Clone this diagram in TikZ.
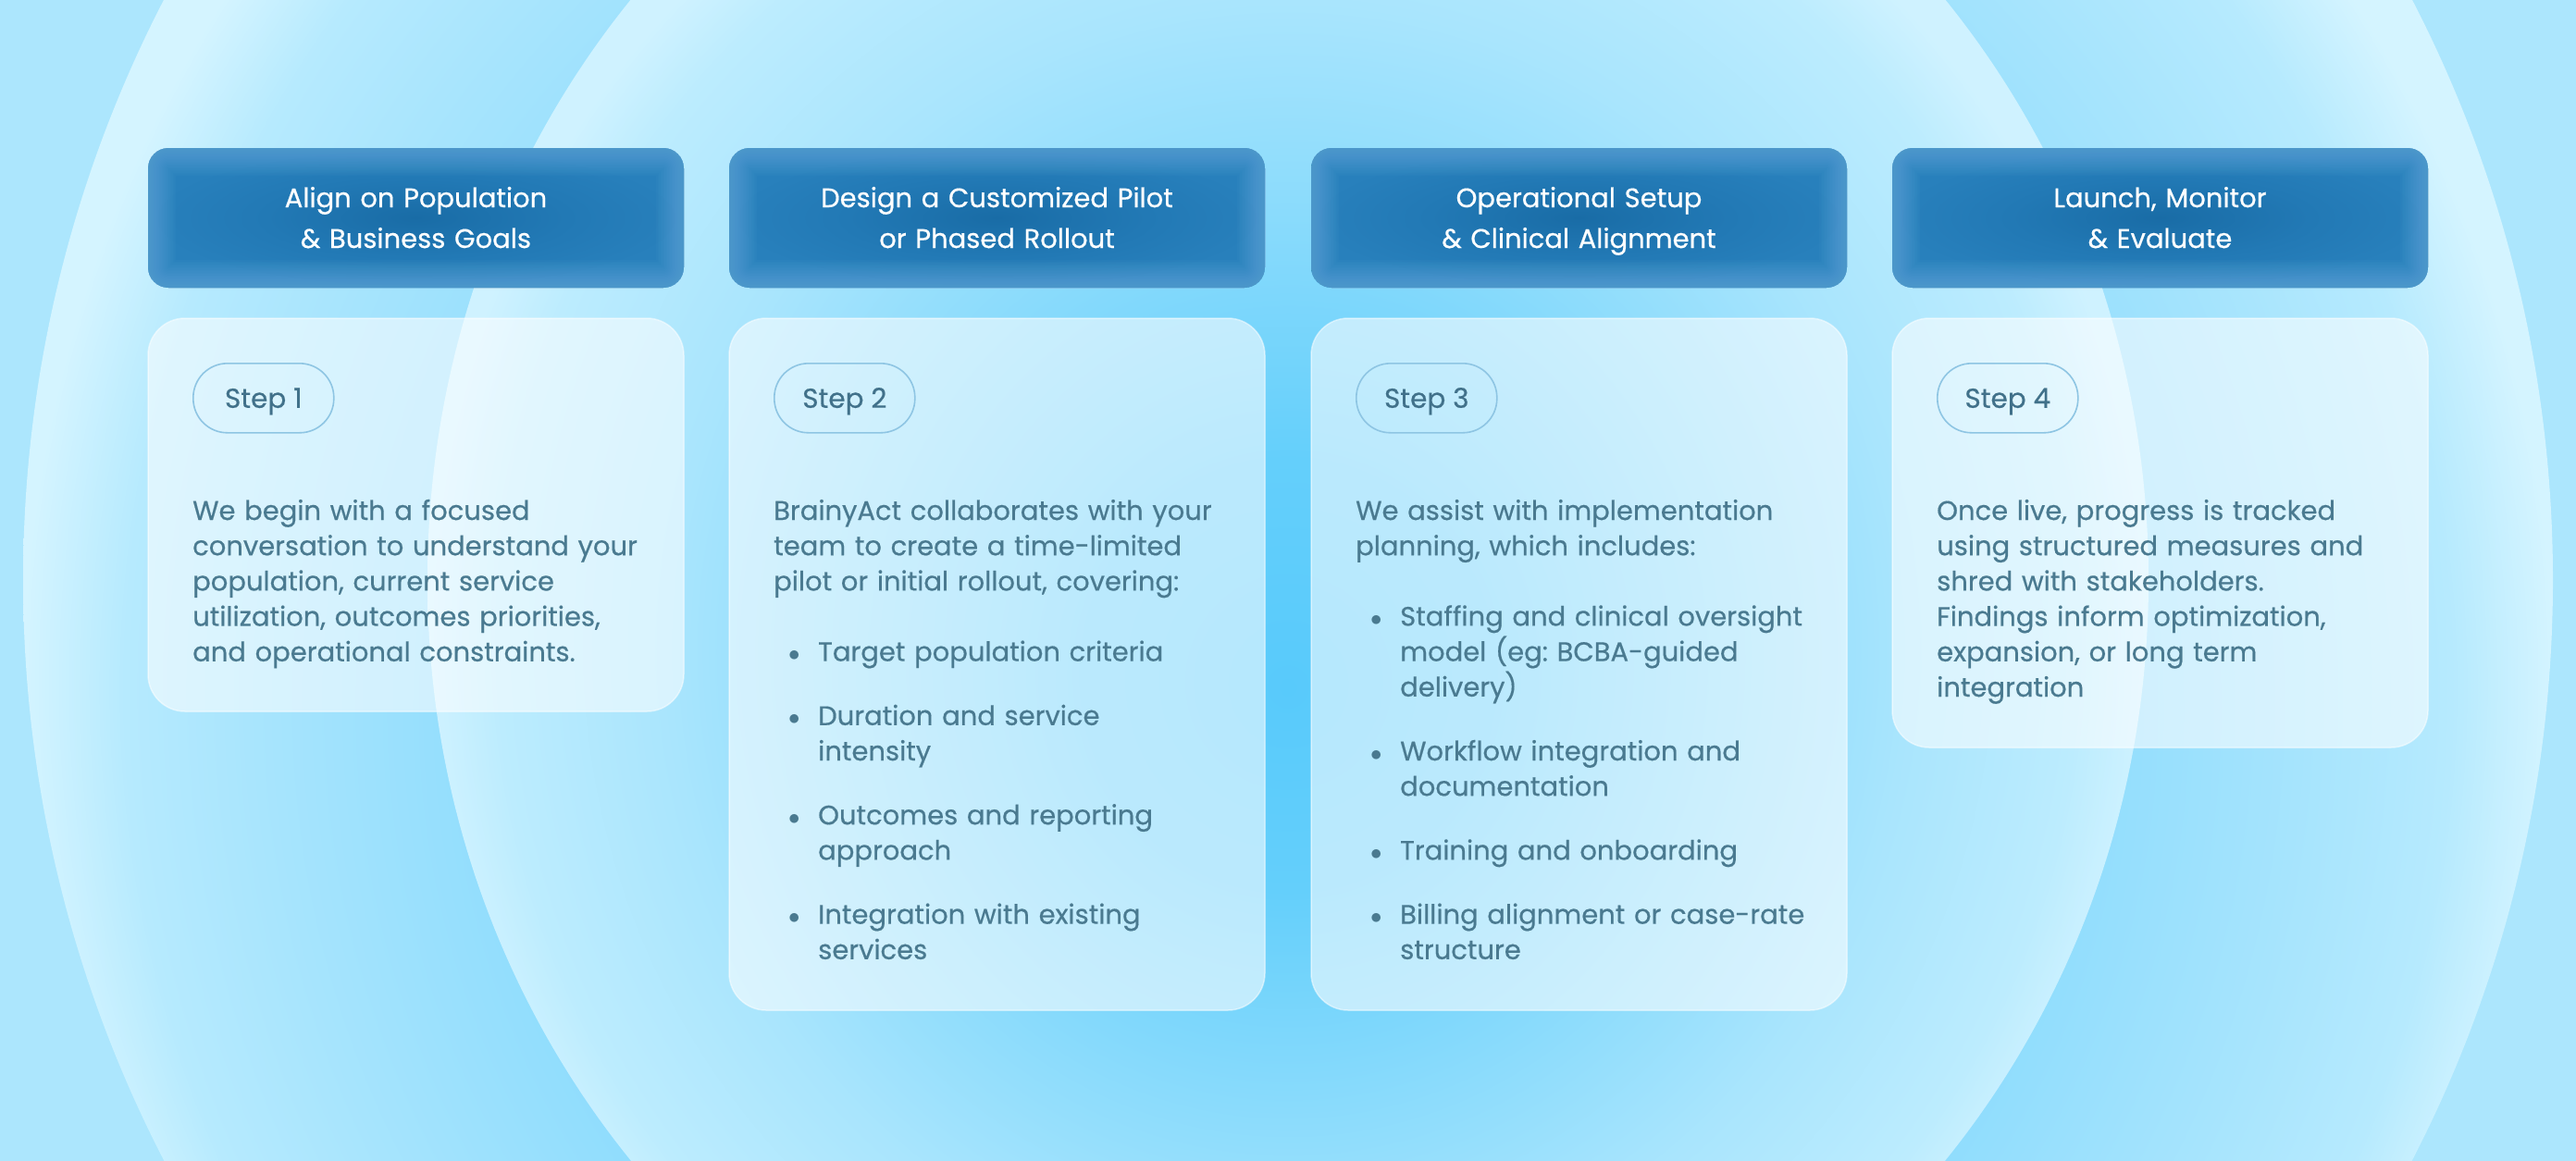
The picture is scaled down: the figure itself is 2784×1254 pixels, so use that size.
\documentclass[tikz,border=0pt]{standalone}
\usepackage{fontspec}
\setmainfont{Poppins}[FakeBold=0.5]
\frenchspacing
\definecolor{bgOuter}{HTML}{ACE6FD}
\definecolor{bA0}{HTML}{5CCCFB}
\definecolor{bA1}{HTML}{72D4FC}
\definecolor{bA2}{HTML}{8DDCFD}
\definecolor{bA3}{HTML}{A6E4FD}
\definecolor{bA4}{HTML}{B6EAFE}
\definecolor{bA5}{HTML}{D4F4FF}
\definecolor{iA0}{HTML}{58CAFB}
\definecolor{iA1}{HTML}{64CFFB}
\definecolor{iA2}{HTML}{8DDCFC}
\definecolor{iA3}{HTML}{A9E5FD}
\definecolor{iA4}{HTML}{BCECFE}
\definecolor{iA5}{HTML}{CFF2FF}
\definecolor{hd0}{HTML}{196CA6}
\definecolor{hd1}{HTML}{2279B5}
\definecolor{hd2}{HTML}{2880BC}
\definecolor{hdGlow}{HTML}{7DBDE6}
\definecolor{bodytext}{HTML}{4A7A90}
\definecolor{steptext}{HTML}{41718A}
\definecolor{pillline}{HTML}{8EC5E3}
\pgfdeclareradialshading{bigShade}{\pgfpoint{0bp}{-4bp}}{color(0bp)=(bA0); color(10bp)=(bA1); color(15bp)=(bA2); color(20bp)=(bA3); color(23bp)=(bA4); color(25bp)=(bA5); color(50bp)=(bA5)}
\pgfdeclareradialshading{innerShade}{\pgfpoint{0bp}{-3bp}}{color(0bp)=(iA0); color(6bp)=(iA1); color(13bp)=(iA2); color(18bp)=(iA3); color(23bp)=(iA4); color(25bp)=(iA5); color(50bp)=(iA5)}
\pgfdeclareradialshading{hdrShade}{\pgfpoint{0bp}{0bp}}{color(0bp)=(hd0); color(14bp)=(hd1); color(25bp)=(hd2); color(50bp)=(hd2)}
\newcommand{\bulitem}[1]{\par\hangindent=48pt\hangafter=1\noindent\makebox[48pt][l]{\hspace{16pt}$\bullet$}#1\par}
\begin{document}
\begin{tikzpicture}[x=1pt,y=-1pt,
  hdr/.style={rectangle, rounded corners=22pt, minimum width=579pt, minimum height=151pt, inner sep=0pt, outer sep=0pt, shade, shading=hdrShade, anchor=north west,
    path picture={
      \foreach \lw in {3,6,...,60}{
        \draw[hdGlow, line width=\lw pt, draw opacity=0.035, rounded corners=22pt]
          (path picture bounding box.north west) rectangle (path picture bounding box.south east);
      }
    }},
  hdrtext/.style={text=white, text width=570pt, align=center, anchor=base, inner sep=0pt, font=\fontsize{29pt}{44pt}\selectfont},
  card/.style={rectangle, rounded corners=40pt, minimum width=579pt, inner sep=0pt, outer sep=0pt, fill=white, fill opacity=0.56, draw=white, draw opacity=0.5, line width=1.5pt, anchor=north west},
  pill/.style={rectangle, rounded corners=37pt, minimum width=152pt, minimum height=75pt, draw=pillline, line width=1.6pt, inner sep=0pt, text=steptext, font=\fontsize{29.5pt}{34pt}\selectfont, text height=21pt, text depth=0pt, anchor=north west},
  body/.style={text=bodytext, text width=550pt, align=left, anchor=base west, inner sep=0pt, font=\fontsize{29pt}{38.2pt}\selectfont}
]
\useasboundingbox (0,0) rectangle (2784,1254);
\begin{scope}
\clip (-4,-4) rectangle (2788,1258);
\fill[bgOuter] (-4,-4) rectangle (2788,1258);
\shade[shading=bigShade] (1392,627) circle[radius=1367pt];
\shade[shading=innerShade] (1392,627) ellipse[x radius=930pt, y radius=972pt];
\end{scope}

% headers
\node[hdr] (h1) at (160,160) {};
\node[hdr] (h2) at (788,160) {};
\node[hdr] (h3) at (1417,160) {};
\node[hdr] (h4) at (2045,160) {};
\node[hdrtext] (h1t) at (449.5,224) {Align on Population\\\& Business Goals};
\node[hdrtext] (h2t) at (1077.5,224) {Design a Customized Pilot\\or Phased Rollout};
\node[hdrtext] (h3t) at (1706.5,224) {Operational Setup\\\& Clinical Alignment};
\node[hdrtext] (h4t) at (2334.5,224) {Launch, Monitor\\\& Evaluate};

% cards
\node[card, minimum height=425pt] (c1) at (160,344) {};
\node[card, minimum height=748pt] (c2) at (788,344) {};
\node[card, minimum height=748pt] (c3) at (1417,344) {};
\node[card, minimum height=464pt] (c4) at (2045,344) {};

% pills
\node[pill] (s1) at (208,392) {Step 1};
\node[pill] (s2) at (836,392) {Step 2};
\node[pill] (s3) at (1465,392) {Step 3};
\node[pill] (s4) at (2093,392) {Step 4};

% body texts
\node[body] (b1) at (208,562) {We begin with a focused\newline conversation to understand your\newline population, current service\newline utilization, outcomes priorities,\newline and operational constraints.};
\node[body] (b2) at (836,562) {BrainyAct collaborates with your\newline team to create a time-limited\newline pilot or initial rollout, covering:\par\vspace{38pt}%
\bulitem{Target population criteria}\vspace{31pt}%
\bulitem{Duration and service\newline intensity}\vspace{31pt}%
\bulitem{Outcomes and reporting\newline approach}\vspace{31pt}%
\bulitem{Integration with existing\newline services}};
\node[body] (b3) at (1465,562) {We assist with implementation\newline planning, which includes:\par\vspace{38pt}%
\bulitem{Staffing and clinical oversight\newline model (eg: BCBA-guided\newline delivery)}\vspace{31pt}%
\bulitem{Workflow integration and\newline documentation}\vspace{31pt}%
\bulitem{Training and onboarding}\vspace{31pt}%
\bulitem{Billing alignment or case-rate\newline structure}};
\node[body] (b4) at (2093,562) {Once live, progress is tracked\newline using structured measures and\newline shred with stakeholders.\newline Findings inform optimization,\newline expansion, or long term\newline integration};
\end{tikzpicture}
\end{document}
